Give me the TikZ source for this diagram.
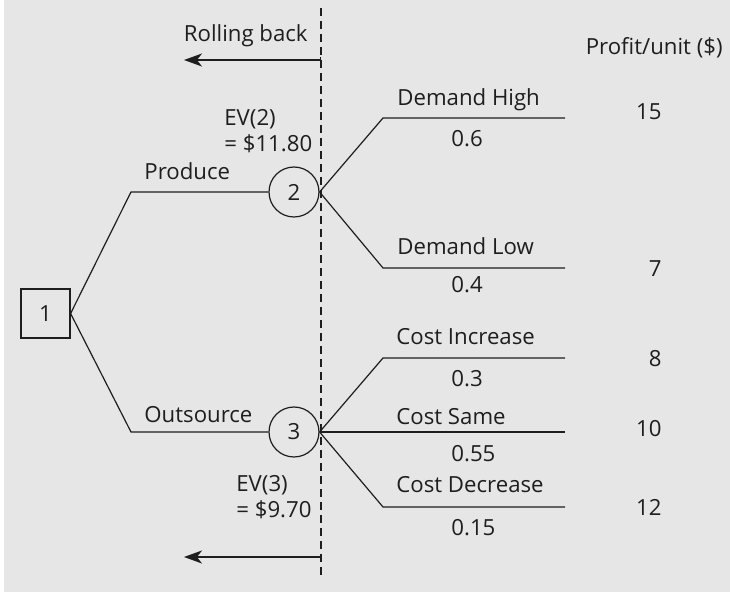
\documentclass[tikz,border=0pt]{standalone}
\usepackage{fontspec}
\setmainfont{Open Sans}
\usetikzlibrary{arrows.meta,positioning}
\definecolor{panel}{HTML}{E6E6E6}
\definecolor{ink}{HTML}{1E1E1E}
\tikzset{
  branch/.style={draw=ink, line width=0.6pt},
  decision/.style={draw=ink, line width=0.6pt, minimum size=24.5pt, inner sep=0pt},
  chance/.style={circle, draw=ink, line width=0.6pt, minimum size=25pt, inner sep=0pt},
  lbl/.style={font=\fontsize{11.1}{13}\selectfont, text=ink, inner sep=0pt},
  rollback/.style={{Bar[width=3pt]}-{Stealth[length=9pt,width=6.5pt,inset=2.5pt]}, line width=0.6pt, ink},
  divider/.style={dash pattern=on 4pt off 2.5pt, line width=0.6pt, ink},
}
\begin{document}
\begin{tikzpicture}[x=0.5pt, y=-0.5pt]
  \fill[panel] (4,0) rectangle (730,592);
  \useasboundingbox (0,0) rectangle (730,593);

  % decision and chance nodes
  \node[decision, lbl] (n1) at (45.5,313.5) {1};
  \node[chance, lbl] (n2) at (294,192) {2};
  \node[chance, lbl] (n3) at (294,432) {3};

  % first stage
  \coordinate (up) at (131,192);
  \coordinate (lo) at (131,432);
  \draw[branch] (n1.east) -- (up) -- (n2.west);
  \draw[branch] (n1.east) -- (lo) -- (n3.west);
  \node[lbl, anchor=base west] (produce) at (144,180) {Produce};
  \node[lbl, anchor=base west] (outsource) at (144,423) {Outsource};
  \node[lbl, anchor=west, align=left] (ev2) at (224,131) {EV(2)\\= \$11.80};
  \node[lbl, anchor=west, align=left] (ev3) at (236,497) {EV(3)\\= \$9.70};

  % demand outcomes
  \coordinate (hi) at (383,118);
  \coordinate (hiend) at (565,118);
  \coordinate (low) at (383,268);
  \coordinate (lowend) at (565,268);
  \draw[branch] (n2.east) -- (hi) -- (hiend);
  \draw[branch] (n2.east) -- (low) -- (lowend);
  \node[lbl, anchor=base west] (hilbl) at (397,106) {Demand High};
  \node[lbl, anchor=base west] (hip) at (451,147) {0.6};
  \node[lbl, anchor=base west] (lowlbl) at (397,255) {Demand Low};
  \node[lbl, anchor=base west] (lowp) at (451,293) {0.4};

  % cost outcomes
  \coordinate (inc) at (383,358);
  \coordinate (incend) at (565,358);
  \coordinate (sameend) at (565,432);
  \coordinate (dec) at (383,507);
  \coordinate (decend) at (565,507);
  \draw[branch] (n3.east) -- (inc) -- (incend);
  \draw[branch] (n3.east) -- (sameend);
  \draw[branch] (n3.east) -- (dec) -- (decend);
  \node[lbl, anchor=base west] (inclbl) at (396,345) {Cost Increase};
  \node[lbl, anchor=base west] (incp) at (451,387) {0.3};
  \node[lbl, anchor=base west] (samelbl) at (396,425) {Cost Same};
  \node[lbl, anchor=base west] (samep) at (451,462) {0.55};
  \node[lbl, anchor=base west] (declbl) at (396,493) {Cost Decrease};
  \node[lbl, anchor=base west] (decp) at (451,536) {0.15};

  % payoffs
  \node[lbl, anchor=base east] (profit) at (723,55) {Profit/unit (\$)};
  \node[lbl, anchor=base east] (v15) at (662,120) {15};
  \node[lbl, anchor=base east] (v7) at (662,277) {7};
  \node[lbl, anchor=base east] (v8) at (662,367) {8};
  \node[lbl, anchor=base east] (v10) at (662,437) {10};
  \node[lbl, anchor=base east] (v12) at (662,516) {12};

  % rolling back
  \coordinate (dtop) at (321,8);
  \coordinate (dbot) at (321,577);
  \draw[divider] (dtop) -- (dbot);
  \coordinate (rbtop) at (321,60);
  \coordinate (rbtoptip) at (184,60);
  \coordinate (rbbot) at (321,557);
  \coordinate (rbbottip) at (184,557);
  \draw[rollback] (rbtop) -- (rbtoptip);
  \draw[rollback] (rbbot) -- (rbbottip);
  \node[lbl, anchor=base east] (rolling) at (308,42) {Rolling back};
\end{tikzpicture}
\end{document}
